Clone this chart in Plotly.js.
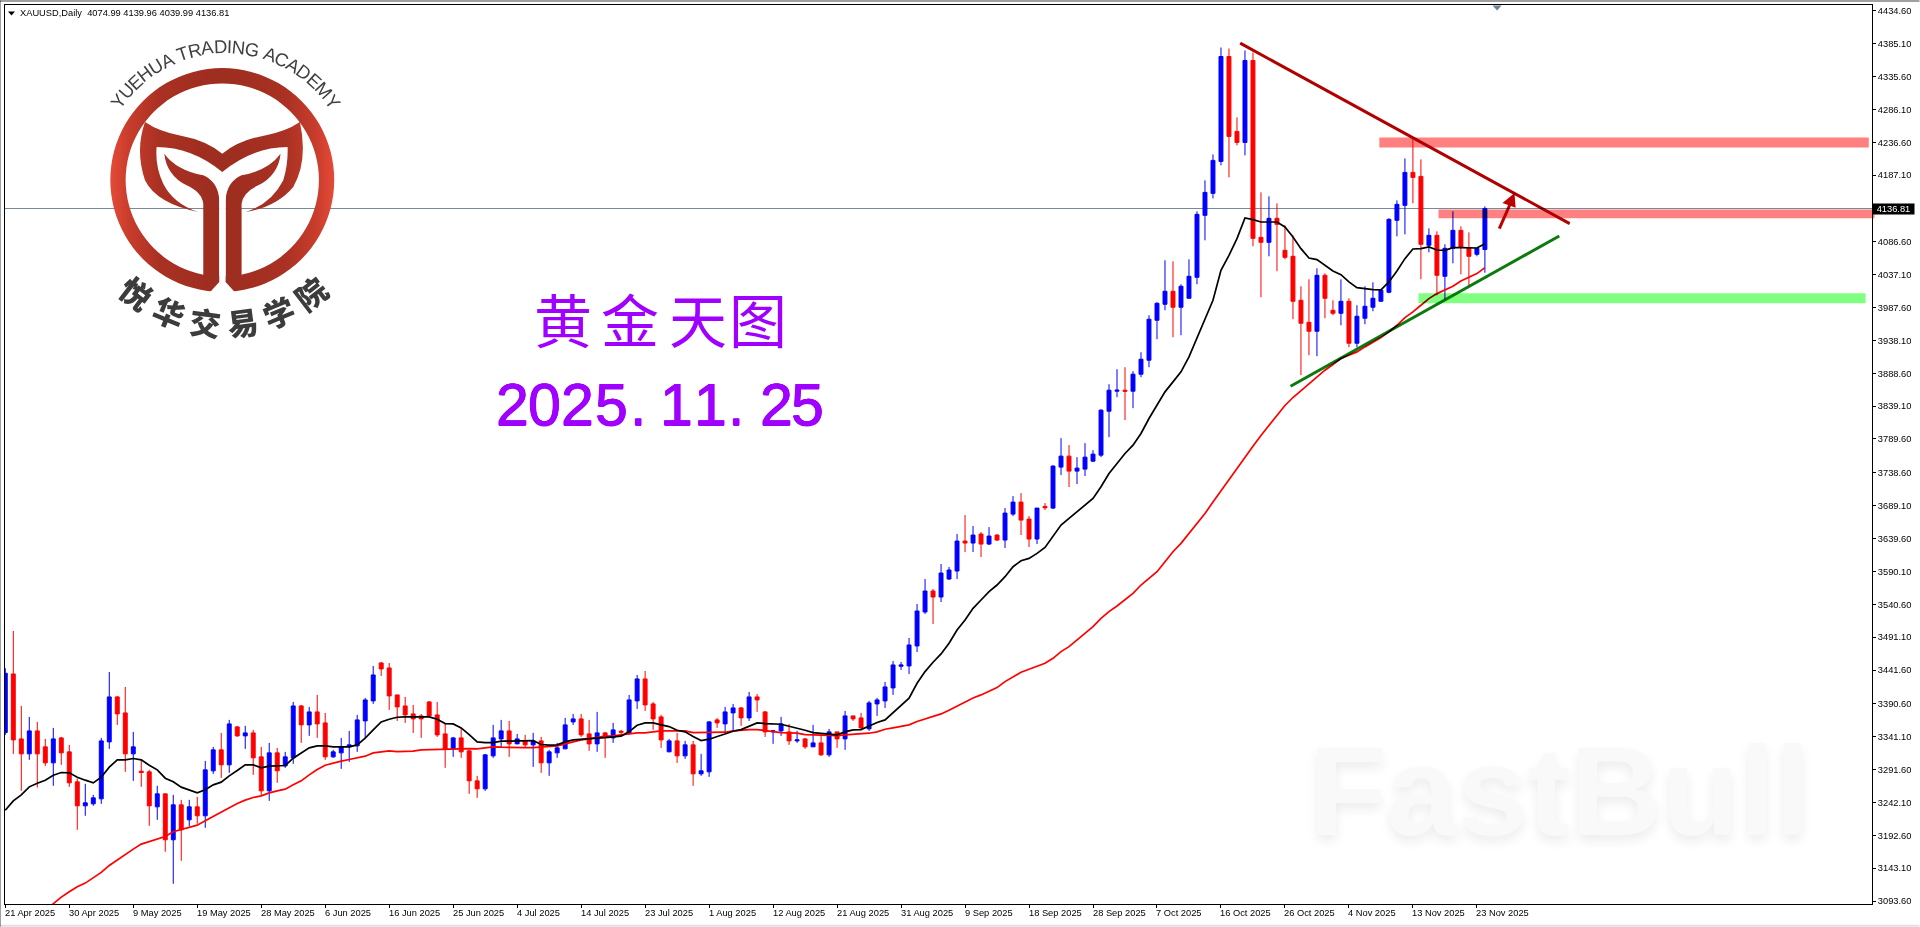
<!DOCTYPE html>
<html>
<head>
<meta charset="utf-8">
<script src="https://cdn.plot.ly/plotly-3.0.1.min.js"></script>
<style>html,body{margin:0;padding:0;background:#fff;overflow:hidden}#c{width:1920px;height:927px}</style>
</head>
<body>
<div id="c"></div>
<script>
// ---- daily bars of XAUUSD, 186 sessions, one row per 10 bars ----
const open = [
3351,3439,3341.5,3319,3353.5,3329.5,3305.5,3343,3322,3277,
3241,3244,3251.5,3337,3404.5,3380.5,3319,3293,3292,3239.5,
3259,3190,3242.5,3220,3239.5,3226,3293.5,3325,3302.5,3359.5,
3346,3350.5,3314.5,3263.5,3320.5,3301,3313,3391,3362.5,3382,
3365.5,3314.5,3320.5,3329.5,3331,3368.5,3398.5,3455.5,3448,3407.5,
3391,3379,3376,3397,3377.5,3349,3326.5,3343,3323.5,3278.5,
3266.5,3316,3341.5,3353.5,3334,3338.5,3332.5,3338.5,3305.5,3320.5,
3326.5,3367,3371.5,3349,3334,3350.5,3343,3353,3350.5,3398.5,
3431.5,3394,3374.5,3322,3338.5,3316,3332.5,3289,3292,3370,
3364,3380.5,3388,3373,3404.5,3382,3352,3353.5,3352,3338.5,
3341.5,3329.5,3335.5,3317.5,3352,3341.5,3376,3373,3356.5,3394,
3398.5,3418,3450.5,3451,3481,3532,3563.5,3554.5,3581.5,3593.5,
3638.5,3635.5,3649,3634,3647.5,3640,3679,3697,3671.5,3641.5,
3690.5,3688,3749.5,3766,3743.5,3746.5,3758.5,3767.5,3833.5,3863.5,
3865,3863.5,3889,3910,3970,3994,4013.5,3989.5,4003,4034.5,
4127.5,4160.5,4208.5,4366,4253.5,4237,4360,4094.5,4087,4123,
4075,4066,4000,3967,3953.5,4037.5,3985,3980.5,3998.5,3935.5,
3973,3989.5,3998.5,4012,4120,4142.5,4192,4186,4082.5,4097.5,
4036,4078,4105,4078,4069,4074.99];
const high = [
3447.5,3503.5,3391,3374.5,3367,3341.5,3358,3344.5,3332.5,3282,
3274,3257.5,3343,3442,3406,3419.5,3352,3310,3295,3271,
3259,3257.5,3250,3250,3254.5,3308.5,3329.5,3350.5,3370,3361,
3361,3355,3329.5,3335.5,3328,3322,3397,3392.5,3389.5,3407.5,
3380.5,3325,3343,3353.5,3377.5,3403,3451,3457,3455.5,3407.5,
3404.5,3392.5,3379,3398.5,3397,3364,3344.5,3358,3325,3286,
3319,3362.5,3370,3368.5,3349,3347.5,3350.5,3344.5,3325,3335.5,
3373,3379,3379,3370,3382,3352,3365.5,3355,3407.5,3437.5,
3443.5,3397,3377.5,3341.5,3350.5,3338.5,3338.5,3319,3368.5,3373,
3389.5,3394,3389.5,3412,3409,3383.5,3355,3374.5,3364,3353.5,
3343,3362.5,3347.5,3356.5,3352,3383.5,3376,3380.5,3398.5,3403,
3427,3458.5,3457,3493,3544,3581.5,3566.5,3604,3599.5,3649,
3677.5,3661,3652,3659.5,3649,3688,3706,3710.5,3676,3688,
3695.5,3752.5,3793,3782.5,3764.5,3785.5,3775,3836.5,3874,3896.5,
3899.5,3893.5,3922,3977.5,3997,4060,4058.5,4024,4061.5,4133.5,
4180,4219,4379.5,4378,4274.5,4375,4372,4162,4156,4145.5,
4112.5,4097.5,4021,4031.5,4048,4040.5,4000,4031.5,4003,3992.5,
4021,4027,4015,4123,4150,4213,4244.5,4211.5,4108,4103.5,
4084,4133.5,4111,4102,4078,4139.96];
const low = [
3347.5,3319,3263.5,3310,3268.5,3301,3271,3302.5,3269.5,3205,
3226,3241,3244,3326.5,3362.5,3292,3278.5,3269.5,3211,3220,
3172,3124,3158.5,3210,3214,3208,3289,3283,3290.5,3344.5,
3326.5,3287.5,3256,3248.5,3275.5,3298,3304,3335.5,3346,3343,
3310,3313,3296.5,3307,3322,3343,3394,3436,3385,3368.5,
3365.5,3350.5,3343,3374.5,3344.5,3298,3314.5,3313,3259,3253,
3263.5,3313,3329.5,3314.5,3334,3328,3299.5,3290.5,3286,3313,
3326.5,3362.5,3344.5,3323.5,3322,3313,3335.5,3347.5,3347.5,3386.5,
3383.5,3355,3328,3322,3305.5,3311.5,3271,3286,3284.5,3358,
3352,3352,3361,3368.5,3382,3344.5,3334,3346,3332.5,3335.5,
3326.5,3329.5,3316,3314.5,3328,3325,3368.5,3356.5,3353.5,3376,
3388,3407.5,3445,3439,3472,3529,3514,3547,3580,3581.5,
3622,3622,3614.5,3632.5,3638.5,3628,3676,3647.5,3629.5,3634,
3685,3686.5,3737.5,3719.5,3724,3736,3757,3764.5,3794.5,3854.5,
3820,3838,3884.5,3899.5,3941.5,3985,3944.5,3947.5,4003,4024,
4090,4153,4202.5,4184.5,4232.5,4217.5,4081,4004.5,4066,4043.5,
4061.5,3971.5,3887.5,3917.5,3916,3973,3977.5,3962.5,3929.5,3929.5,
3964,3983.5,3998.5,4010.5,4096,4099,4145.5,4031.5,4072,4007.5,
4001.5,4055.5,4039,4022.5,4066,4039.99];
const close = [
3440,3340,3319,3353.5,3319,3305.5,3341.5,3320.5,3275.5,3241,
3245.5,3253,3338.5,3404.5,3379,3319,3329.5,3291,3241,3259,
3190,3242.5,3205,3239.5,3226,3295,3325,3302.5,3364,3346,
3350.5,3313,3263.5,3320.5,3293.5,3314.5,3391,3362.5,3382,3364,
3314.5,3322,3329.5,3332.5,3370,3400,3437.5,3446.5,3406,3389.5,
3377.5,3371.5,3371.5,3376,3347.5,3326.5,3343,3322,3278.5,3266.5,
3317.5,3343,3353.5,3334,3341.5,3332.5,3338.5,3305.5,3322,3328,
3362.5,3371.5,3347.5,3334,3350.5,3344.5,3355,3351.5,3400,3431.5,
3392.5,3371.5,3340,3338.5,3316,3332.5,3289,3293.5,3367,3365.5,
3382,3388,3373,3404.5,3400,3352,3353.5,3364,3338.5,3340,
3329.5,3335.5,3317.5,3352,3341.5,3376,3371.5,3358,3395.5,3400,
3419.5,3452.5,3452.5,3482.5,3533.5,3563.5,3554.5,3590.5,3595,3638.5,
3635.5,3647.5,3634,3646,3640,3680.5,3697,3670,3641.5,3688,
3688.5,3751,3766,3743.5,3748,3764.5,3769,3835,3865,3865,
3863.5,3889,3911.5,3971.5,3995.5,4013.5,3989.5,4021,4036,4129,
4162,4210,4366,4246,4237,4360,4093,4087,4123,4114,
4064.5,3998.5,3965.5,3953.5,4037.5,4003,3980.5,3998.5,3935.5,3976,
3991,4003,4015,4121.5,4144,4192,4184.5,4084,4097.5,4037.5,
4078,4105,4079.5,4066,4078,4136.81];

// ---- moving averages, one value per bar ----
const maFast = [
3234.5,3248.5,3257.5,3269.5,3275,3279.5,3287,3291,3290.5,3284,
3279.5,3275.5,3284,3299,3310,3310,3312,3310,3302,3295,
3282.5,3277,3269,3264.5,3260.5,3265,3272.5,3276.5,3286,3294,
3302.5,3302.5,3298,3300.5,3301.5,3301.5,3312.5,3320,3328,3331,
3331,3329.5,3329.5,3329.5,3332.5,3342.5,3355,3367,3371,3374,
3374.5,3374.5,3374.5,3374.5,3371,3364.5,3364,3358,3348,3337,
3336,3336,3338,3338.5,3339,3339,3339,3333,3332,3332.5,
3337,3340,3340.5,3342,3342.5,3343.5,3344.5,3345.5,3352.5,3362,
3365.5,3365.5,3362.5,3360,3354.5,3352,3345,3339,3341,3345,
3349,3353,3355.5,3361,3365.5,3364.5,3364.5,3363.5,3360.5,3358,
3354.5,3351,3349.5,3349,3347.5,3352,3355,3355.5,3361,3366,
3370,3381,3391,3402.5,3425,3442.5,3456.5,3469,3485,3505,
3520,3537.5,3550,3562.5,3572.5,3585,3600,3609,3612.5,3620,
3629,3645,3662.5,3672.5,3682.5,3692.5,3702.5,3720,3740,3755,
3770,3782.5,3800,3822.5,3842.5,3862.5,3877.5,3892.5,3915,3942.5,
3970,4000,4045,4067.5,4092.5,4123.5,4121,4117.5,4117.5,4117.5,
4110,4095,4077.5,4063.5,4061,4052.5,4044,4038.5,4027.5,4019,
4017,4016,4015.5,4027.5,4044,4062.5,4077,4077.5,4080,4075.5,
4075,4079,4079,4078.5,4078.5,4085];
const maSlow = [
null,null,null,null,3074,3084,3095,3104,3112,3119.5,
3125,3132.5,3141,3151.5,3160,3167.5,3176,3183.5,3187.5,3191.5,
3195,3202,3205.5,3209,3212,3218.5,3225,3232,3238.5,3244.5,
3249.5,3253.5,3256,3260.5,3263.5,3266,3272.5,3278.5,3287.5,3295.5,
3302,3305.5,3308,3310.5,3313,3315.5,3320.5,3322,3323.5,3322.5,
3322.5,3323,3325,3325.5,3325.5,3326.5,3326.5,3327,3327,3326.5,
3327.5,3329.5,3329,3328.5,3328.5,3328.5,3328.5,3329.5,3330,3331,
3334,3337.5,3340,3341.5,3344,3345.5,3346,3347,3349,3350.5,
3350.5,3352,3353.5,3353.5,3353.5,3353.5,3351,3351,3351,3351,
3351.5,3353.5,3355,3355.5,3355.5,3354.5,3352.5,3351,3350.5,3350,
3348,3347.5,3347,3346.5,3346.5,3347.5,3348,3348.5,3350,3352,
3356,3358,3360,3362.5,3367.5,3371,3375,3379,3384.5,3391,
3397.5,3403,3407.5,3412.5,3418.5,3427.5,3434,3441.5,3446,3450,
3455,3462.5,3472.5,3480,3490,3500,3510,3522.5,3532.5,3541,
3551,3560,3572.5,3582.5,3592.5,3607.5,3622.5,3635,3650,3665,
3680,3697,3714,3731,3748,3765,3781,3797,3812,3828,
3842,3854,3864,3874,3885,3895,3903.5,3912.5,3917.5,3922.5,
3930,3936.5,3944,3952.5,3962.5,3974,3982.5,3992.5,4002.5,4010,
4016,4021,4029,4034,4040,4049];

// ---- axis labels ----
const dateLabels = ['21 Apr 2025','30 Apr 2025','9 May 2025','19 May 2025','28 May 2025','6 Jun 2025','16 Jun 2025','25 Jun 2025','4 Jul 2025','14 Jul 2025','23 Jul 2025','1 Aug 2025','12 Aug 2025','21 Aug 2025','31 Aug 2025','9 Sep 2025','18 Sep 2025','28 Sep 2025','7 Oct 2025','16 Oct 2025','26 Oct 2025','4 Nov 2025','13 Nov 2025','23 Nov 2025'];
const priceTicks = [4434.60,4385.10,4335.60,4286.10,4236.60,4187.10,4086.60,4037.10,3987.60,3938.10,3888.60,3839.10,3789.60,3738.60,3689.10,3639.60,3590.10,3540.60,3491.10,3441.60,3390.60,3341.10,3291.60,3242.10,3192.60,3143.10,3093.60];
const lastPrice = 4136.81;
const headerText = 'XAUUSD,Daily  4074.99 4139.96 4039.99 4136.81';
const logoTop = 'YUEHUA TRADING ACADEMY';
const logoBottom = '悦华交易学院';
const titleCn = '黄金天图';
const titleDate = '2025.11.25';

// ---- frame of the chart on the page ----
const PW = 1920, PH = 927, L = 5, R = 1872.5, T = 4.5, B = 904.3;
const W = R - L, H = B - T;
const px = x => (x - L) / W;
const py = y => 1 - (y - T) / H;
const barIndex = open.map((_, i) => i);
const BAR_STEP = 8;
const USD_PER_PX = 1.505, TOP_TICK_Y = 10.3, TOP_TICK = 4434.6;
const xRange = [(L - 5.3) / BAR_STEP, (R - 5.3) / BAR_STEP];
const yRange = [TOP_TICK - (B - TOP_TICK_Y) * USD_PER_PX, TOP_TICK + (TOP_TICK_Y - T) * USD_PER_PX];

// the values above were read on a 1.5 USD/px ruler; the labelled scale is 1.505 USD/px
const cal = p => p === null ? null : TOP_TICK - (TOP_TICK - p) * USD_PER_PX / 1.5;
const calBars = a => a.map((p, i) => i === a.length - 1 ? p : cal(p)); // last bar is printed exactly in the header

const BLUE = '#0000ff', RED = '#ff0000', PURPLE = '#a000ff';
const LABEL_FONT = 'Liberation Sans, Arial, sans-serif';
const annotations = [];
const note = (text, x, y, o) => annotations.push(Object.assign({
  text, xref: 'paper', yref: 'paper', x: px(x), y: py(y), showarrow: false,
  xanchor: 'center', yanchor: 'middle', borderpad: 0,
  font: {family: LABEL_FONT, size: 9.3, color: '#000'}
}, o || {}));

// date labels, left aligned on their ticks
dateLabels.forEach((t, i) => note(t, 5.3 + i * 8 * BAR_STEP - 1.5, 913.5, {xanchor: 'left'}));
// header
note(headerText, 19.5, 12.8, {xanchor: 'left'});
// last price tag
note(lastPrice.toFixed(2), 1894.5, 208.8, {bgcolor: '#000', width: 41, height: 10,
  font: {family: LABEL_FONT, size: 9.3, color: '#fff'}});

// big purple titles, placed glyph by glyph to keep the wide spacing
const cnCentres = [563, 630, 698, 758];
Array.from(titleCn).forEach((c, i) => note(c, cnCentres[i], 318, {
  font: {family: 'Noto Sans CJK SC', size: 58, color: PURPLE}}));
const dateCentres = [513, 545, 578, 612, 638, 677, 711, 736, 777, 808];
Array.from(titleDate).forEach((c, i) => note(c, dateCentres[i], 404.5, {
  font: {family: 'Liberation Sans', size: 59, color: PURPLE,
    shadow: '0.6px 0 0 #a000ff, -0.6px 0 0 #a000ff, 0 0.5px 0 #a000ff, 0 -0.5px 0 #a000ff'}}));

// watermark
note('FastBull', 1560, 791, {font: {family: 'Liberation Sans', size: 127, weight: 700, color: '#f9f9f9', shadow: '0 6px 12px #ededed'}});

// logo lettering along arcs around the ring
const LX = 222.3, LY = 179.3;
const cv = document.createElement('canvas').getContext('2d');
const topSize = 18.5;
cv.font = topSize + 'px "Liberation Sans"';
const totalW = cv.measureText(logoTop).width;
const topR = 133, topCx = LX + 3;
{
  let run = 0;
  Array.from(logoTop).forEach(ch => {
    const w = cv.measureText(ch).width;
    const ang = ((run + w / 2) - totalW / 2) / topR;
    run += w;
    if (ch === ' ') return;
    note(ch, topCx + topR * Math.sin(ang), LY - topR * Math.cos(ang), {
      textangle: ang * 180 / Math.PI,
      font: {family: 'Liberation Sans', size: topSize, color: '#404040'}});
  });
}
const botR = 143, botCx = LX + 1.5;
Array.from(logoBottom).forEach((ch, i) => {
  const deg = -37.5 + 15 * i;
  const a = deg * Math.PI / 180;
  note(ch, botCx + botR * Math.sin(a), LY + botR * Math.cos(a), {
    textangle: -deg,
    font: {family: 'Noto Sans CJK SC', size: 31, weight: 900, color: '#3c3c3c'}});
});

// logo emblem (no text in it)
const emblem = `<svg xmlns="http://www.w3.org/2000/svg" width="1200" height="990" viewBox="0 0 1200 990">
<defs><linearGradient id="g" gradientUnits="userSpaceOnUse" x1="330" y1="0" x2="1004" y2="0">
<stop offset="0" stop-color="#e64a38"/><stop offset=".08" stop-color="#c93d2c"/><stop offset=".22" stop-color="#a93123"/><stop offset=".45" stop-color="#9e2e20"/><stop offset=".55" stop-color="#9e2e20"/><stop offset=".78" stop-color="#a93123"/><stop offset=".92" stop-color="#c93d2c"/><stop offset="1" stop-color="#e64a38"/></linearGradient></defs>
<g fill="url(#g)">
<path fill-rule="evenodd" d="M667 203a336 336 0 1 0 .01 0ZM667 249a290 290 0 1 1 -.01 0Z"/>
<path d="M435 365Q480 395 540 405Q620 420 667 460Q715 420 795 405Q855 395 900 365Q925 480 880 560Q830 620 738 635Q815 610 850 540Q865 490 863 440Q760 440 667 515Q575 440 470 440Q465 500 490 550Q520 610 595 635Q470 610 435 540Q405 450 435 365Z"/>
<path d="M493 460Q530 510 610 525Q655 545 658 600L658 845L630 872L610 860L610 610Q605 575 560 555Q500 525 493 460Z"/>
<path d="M842 460Q805 510 725 525Q680 545 677 600L677 845L705 872L725 860L725 610Q730 575 775 555Q835 525 842 460Z"/>
</g>
<path d="M658 540L677 540L677 845L705 876L630 876L658 845Z" fill="#fff"/>
</svg>`;
const emblemUri = 'data:image/svg+xml;charset=utf-8,' + encodeURIComponent(emblem);

// drawn analysis objects, in bars and prices
const resistanceUpper = {x0: 171.8, x1: 233, y0: 4229.5, y1: 4244.5};
const resistanceLower = {x0: 179.2, y0: 4123.1, y1: 4136.1};
const supportZone = {x0: 176.7, x1: 232.6, y0: 3995.6, y1: 4010.6};
const fallingLine = {x0: 154.4, y0: 4386, x1: 195.6, y1: 4115.1};
const risingLine = {x0: 160.7, y0: 3871, x1: 194.3, y1: 4096.5};
const arrowShaft = {x0: 186.8, y0: 4107.6, x1: 188.1, y1: 4143};
const arrowHead = [[188.7, 4161], [187.2, 4146], [188.84, 4139]];

const PINK = '#ff8080', LIME = '#80ff80';
const box = (b, c) => ({type: 'rect', xref: 'x', yref: 'y', x0: b.x0, x1: b.x1, y0: cal(b.y0), y1: cal(b.y1), fillcolor: c, line: {width: 0}, layer: 'above'});
const seg = (s, c, w) => ({type: 'line', xref: 'x', yref: 'y', x0: s.x0, x1: s.x1, y0: cal(s.y0), y1: cal(s.y1), line: {color: c, width: w}, layer: 'above'});
const tri = pts => 'M' + pts.map(p => px(p[0]) + ',' + py(p[1])).join('L') + 'Z';
const shapes = [
  {type: 'line', xref: 'paper', yref: 'y', x0: 0, x1: 1, y0: lastPrice, y1: lastPrice, line: {color: '#778899', width: 1}, layer: 'below'},
  box(resistanceUpper, PINK),
  {type: 'rect', xref: 'paper', yref: 'y', x0: px(5.3 + resistanceLower.x0 * BAR_STEP), x1: px(1875), y0: cal(resistanceLower.y0), y1: cal(resistanceLower.y1), fillcolor: PINK, line: {width: 0}, layer: 'above'},
  box(supportZone, LIME),
  seg(fallingLine, '#b00000', 3),
  seg(risingLine, '#0c7a0c', 3),
  seg(arrowShaft, '#c00000', 3),
  {type: 'path', xref: 'x', yref: 'y', path: 'M' + arrowHead.map(p => p[0] + ',' + cal(p[1])).join('L') + 'Z', fillcolor: '#c00000', line: {width: 0}, layer: 'above'},
  // header marker and chart-shift marker
  {type: 'path', xref: 'paper', yref: 'paper', path: tri([[8, 11], [15, 11], [11.5, 15]]), fillcolor: '#000', line: {width: 0}, layer: 'above'},
  {type: 'path', xref: 'paper', yref: 'paper', path: tri([[1493, 5], [1502, 5], [1497.5, 10]]), fillcolor: '#6f8296', line: {width: 0}, layer: 'above'},
  // window edges around the chart
  {type: 'line', xref: 'paper', yref: 'paper', x0: px(0), x1: px(PW), y0: py(0.5), y1: py(0.5), line: {color: '#808080', width: 1.5}},
  {type: 'line', xref: 'paper', yref: 'paper', x0: px(0.5), x1: px(0.5), y0: py(0), y1: py(PH), line: {color: '#a0a0a0', width: 1}},
  {type: 'line', xref: 'paper', yref: 'paper', x0: px(0), x1: px(PW), y0: py(926), y1: py(926), line: {color: '#e0e0e0', width: 2}}
];

const traces = [
  {type: 'candlestick', x: barIndex, open: calBars(open), high: calBars(high), low: calBars(low), close: calBars(close),
   increasing: {line: {color: BLUE, width: 1}, fillcolor: BLUE},
   decreasing: {line: {color: RED, width: 1}, fillcolor: RED},
   whiskerwidth: 0, hoverinfo: 'skip', showlegend: false},
  {type: 'scatter', mode: 'lines', x: barIndex, y: maSlow.map(cal), line: {color: RED, width: 1.7}, hoverinfo: 'skip', showlegend: false},
  {type: 'scatter', mode: 'lines', x: barIndex, y: maFast.map(cal), line: {color: '#000', width: 1.7}, hoverinfo: 'skip', showlegend: false}
];

const layout = {
  width: PW, height: PH, autosize: false, showlegend: false,
  margin: {l: L, r: PW - R, t: T, b: PH - B, pad: 0},
  paper_bgcolor: '#fff', plot_bgcolor: '#fff',
  xaxis: {type: 'linear', range: xRange, fixedrange: true, rangeslider: {visible: false},
    tickmode: 'array', tickvals: dateLabels.map((_, i) => i * 8), showticklabels: false,
    ticks: 'outside', ticklen: 3, tickcolor: '#000', tickwidth: 1,
    showgrid: false, zeroline: false, showline: true, linecolor: '#000', linewidth: 1, mirror: true},
  yaxis: {type: 'linear', side: 'right', range: yRange, fixedrange: true,
    tickmode: 'array', tickvals: priceTicks, ticktext: priceTicks.map(v => v.toFixed(2)),
    ticks: 'outside', ticklen: 3, tickcolor: '#000', tickwidth: 1,
    tickfont: {family: LABEL_FONT, size: 9.3, color: '#000'},
    showgrid: false, zeroline: false, showline: true, linecolor: '#000', linewidth: 1, mirror: true},
  shapes, annotations,
  images: [{source: emblemUri, xref: 'paper', yref: 'paper', x: px(0), y: py(0), sizex: 400 / W, sizey: 330 / H,
    sizing: 'stretch', xanchor: 'left', yanchor: 'top', layer: 'above'}]
};

Plotly.newPlot('c', traces, layout, {staticPlot: true, displayModeBar: false}).then(() => {
  document.querySelectorAll('.layer-above .shapelayer .shape-group').forEach(g => g.style.mixBlendMode = 'multiply');
});
</script>
</body>
</html>
